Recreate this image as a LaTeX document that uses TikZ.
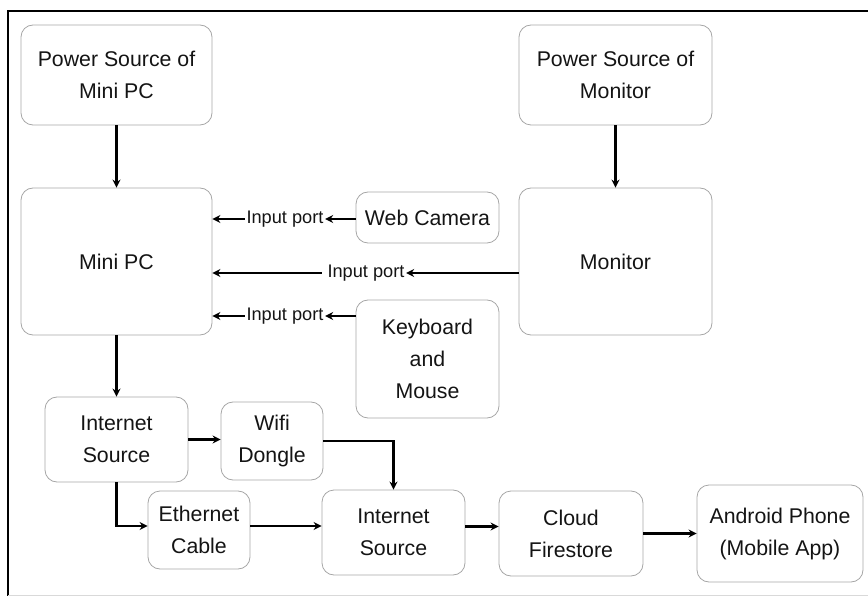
\documentclass[tikz,border=0pt]{standalone}
\usepackage{fontspec}
\setmainfont{Liberation Sans}
\usetikzlibrary{arrows.meta}
\begin{document}
\begin{tikzpicture}[x=1pt,y=-1pt,
  box/.style={draw=black!35, line width=0.8pt, rounded corners=12pt, align=center,
    font=\fontsize{21.3}{32}\selectfont, text=black!92, inner sep=0pt},
  lbl/.style={font=\fontsize{18.2}{20}\selectfont, inner sep=1.5pt, text=black!92},
  arr/.style={line width=2.6pt, -{Stealth[length=8pt,width=8pt]}}]
\useasboundingbox (0,0) rectangle (868,596);
% frame
\draw[line width=1.5pt] (8,596) -- (8,11) -- (868,11);
\draw[black!15, line width=1pt] (8,595) -- (868,595);
% nodes
\node[box, minimum width=191pt, minimum height=100pt] (ps1) at (116.5,75) {Power Source of\\Mini PC};
\node[box, minimum width=191pt, minimum height=147pt] (minipc) at (116.5,261.5) {Mini PC};
\node[box, minimum width=193pt, minimum height=100pt] (ps2) at (615.5,75) {Power Source of\\Monitor};
\node[box, minimum width=193pt, minimum height=147pt] (monitor) at (615.5,261.5) {Monitor};
\node[box, minimum width=143pt, minimum height=51pt] (webcam) at (427.5,217.5) {Web Camera};
\node[box, minimum width=143pt, minimum height=118pt] (kbd) at (427.5,359) {Keyboard\\and\\Mouse};
\node[box, minimum width=143pt, minimum height=85pt] (is1) at (116.5,439.5) {Internet\\Source};
\node[box, minimum width=102pt, minimum height=78pt] (wifi) at (272,441) {Wifi\\Dongle};
\node[box, minimum width=102pt, minimum height=78pt] (eth) at (199,530) {Ethernet\\Cable};
\node[box, minimum width=143pt, minimum height=85pt] (is2) at (393.5,532.5) {Internet\\Source};
\node[box, minimum width=144pt, minimum height=85pt] (cloud) at (571,533.5) {Cloud\\Firestore};
\node[box, minimum width=166pt, minimum height=97pt] (android) at (780,533.5) {Android Phone\\(Mobile App)};
% input port labels
\node[lbl] (l1) at (285,219) {Input port};
\node[lbl] (l2) at (366,273) {Input port};
\node[lbl] (l3) at (285,316) {Input port};
% helper coordinates
\coordinate (ethE) at ([yshift=4pt]eth.east);
\coordinate (ethW) at ([yshift=4pt]eth.west);
\coordinate (is2E) at ([yshift=6pt]is2.east);
% connectors
\draw[arr] (ps1.south) -- (minipc.north);
\draw[arr] (ps2.south) -- (monitor.north);
\draw[arr] (webcam.west |- l1) -- (l1.east);
\draw[arr] (l1.west) -- (minipc.east |- l1);
\draw[arr] (monitor.west |- l2) -- (l2.east);
\draw[arr] ([xshift=-4pt]l2.west) -- (minipc.east |- l2);
\draw[arr] (kbd.west |- l3) -- (l3.east);
\draw[arr] (l3.west) -- (minipc.east |- l3);
\draw[arr] (minipc.south) -- (is1.north);
\draw[arr] (is1.east) -- (wifi.west |- is1.east);
\draw[arr] (wifi.east) -| (is2.north);
\draw[arr] (is1.south) |- (ethW);
\draw[arr] (ethE) -- (is2.west |- ethE);
\draw[arr] (is2E) -- (cloud.west |- is2E);
\draw[arr] (cloud.east) -- (android.west |- cloud.east);
\end{tikzpicture}
\end{document}
